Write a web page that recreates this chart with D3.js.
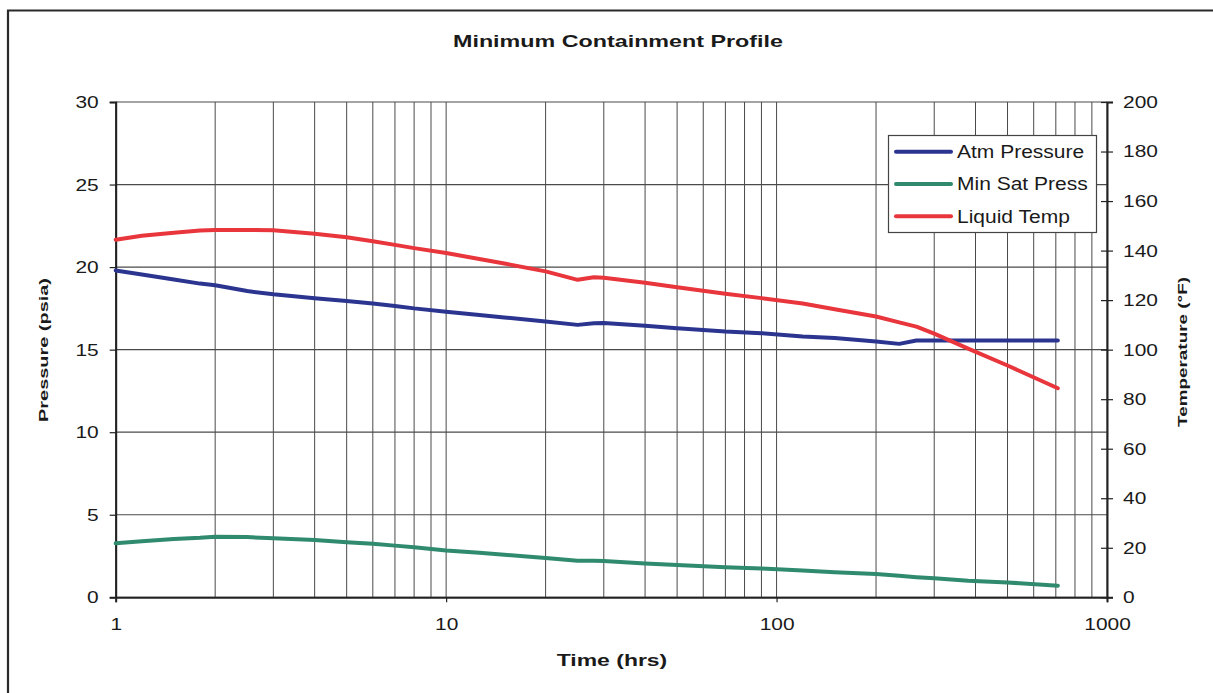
<!DOCTYPE html>
<html><head><meta charset="utf-8">
<script src="https://cdn.jsdelivr.net/npm/d3@7"></script>
<style>
html,body{margin:0;padding:0;background:#fff;}
svg{display:block;}
text{font-family:"Liberation Sans",Arial,sans-serif;fill:#1a1a1a;}
</style></head>
<body>
<svg id="chart" width="1213" height="693"></svg>
<script>
// ---- data ----
const timeHrs = [1, 1.2, 1.5, 1.8, 2, 2.5, 3, 4, 5, 6, 7, 8, 10, 12.6, 15, 20, 25, 28, 30, 40, 50, 70, 90, 120, 150, 200, 235, 265, 300, 380, 500, 710];
const atmPressure = [19.8, 19.55, 19.25, 19.0, 18.9, 18.55, 18.35, 18.12, 17.95, 17.8, 17.65, 17.5, 17.3, 17.1, 16.95, 16.7, 16.5, 16.6, 16.62, 16.45, 16.3, 16.1, 16.0, 15.8, 15.7, 15.5, 15.35, 15.55, 15.55, 15.55, 15.55, 15.55];
const minSatPress = [3.27, 3.4, 3.53, 3.6, 3.67, 3.65, 3.57, 3.47, 3.33, 3.25, 3.13, 3.03, 2.83, 2.7, 2.58, 2.38, 2.22, 2.22, 2.2, 2.05, 1.95, 1.82, 1.74, 1.62, 1.52, 1.41, 1.3, 1.22, 1.15, 1.0, 0.9, 0.7];
const liquidTemp = [144.4, 146.0, 147.2, 148.1, 148.3, 148.3, 148.2, 146.8, 145.4, 143.8, 142.3, 141.0, 139.0, 136.6, 134.8, 131.6, 128.2, 129.2, 129.0, 127.0, 125.2, 122.6, 120.8, 118.6, 116.3, 113.4, 111.0, 109.3, 106.5, 100.4, 93.6, 84.4];
const seriesNames = ["Atm Pressure", "Min Sat Press", "Liquid Temp"];
const seriesColors = ["#2b3590", "#2f8a6e", "#e8363c"];
const xTickValues = [1, 10, 100, 1000];
const leftTickValues = [0, 5, 10, 15, 20, 25, 30];
const rightTickValues = [0, 20, 40, 60, 80, 100, 120, 140, 160, 180, 200];
const titleText = "Minimum Containment Profile";
const xTitle = "Time (hrs)";
const yLeftTitle = "Pressure (psia)";
const yRightTitle = "Temperature (°F)";

// ---- layout ----
const svg = d3.select("#chart");
const L = 115.7, R = 1107, T = 102, B = 597.3;
const x = d3.scaleLog().domain([1, 1000]).range([L, R]);
const yL = d3.scaleLinear().domain([0, 30]).range([B, T]);
const yR = d3.scaleLinear().domain([0, 200]).range([B, T]);

function stretch(sel, factor) {
  sel.each(function () {
    const w = this.getComputedTextLength();
    d3.select(this).attr("textLength", w * factor).attr("lengthAdjust", "spacingAndGlyphs");
  });
  return sel;
}

// outer frame
svg.append("line").attr("x1", 7).attr("x2", 1213).attr("y1", 10.5).attr("y2", 10.5).attr("stroke", "#2a2a2a").attr("stroke-width", 2.2);
svg.append("line").attr("x1", 8).attr("x2", 8).attr("y1", 10).attr("y2", 693).attr("stroke", "#2a2a2a").attr("stroke-width", 2.2);

// grid
const minorTicks = [];
for (let d = 1; d <= 100; d *= 10) for (let k = 1; k <= 9; k++) minorTicks.push(d * k);
minorTicks.push(1000);
svg.append("g").selectAll("line").data(minorTicks).join("line")
  .attr("x1", d => x(d)).attr("x2", d => x(d)).attr("y1", T).attr("y2", B)
  .attr("stroke", "#4a4a4a").attr("stroke-width", 1);
svg.append("g").selectAll("line").data(leftTickValues).join("line")
  .attr("x1", L).attr("x2", R).attr("y1", d => yL(d)).attr("y2", d => yL(d))
  .attr("stroke", "#4a4a4a").attr("stroke-width", 1.2);

// axes
const axisColor = "#222";
const gx = svg.append("g").attr("transform", `translate(0,${B})`)
  .call(d3.axisBottom(x).tickValues(xTickValues).tickFormat(d3.format("d")).tickSize(5).tickPadding(16));
const gl = svg.append("g").attr("transform", `translate(${L},0)`)
  .call(d3.axisLeft(yL).tickValues(leftTickValues).tickFormat(d3.format("d")).tickSize(6).tickPadding(11));
const gr = svg.append("g").attr("transform", `translate(${R},0)`)
  .call(d3.axisRight(yR).tickValues(rightTickValues).tickFormat(d3.format("d")).tickSize(6).tickPadding(10));
[gx, gl, gr].forEach(g => {
  g.select(".domain").attr("stroke", axisColor).attr("stroke-width", 2);
  g.selectAll(".tick line").attr("stroke", axisColor).attr("stroke-width", 1.2);
  g.selectAll("text").attr("font-family", "Liberation Sans, Arial, sans-serif").attr("font-size", 17).attr("fill", "#1a1a1a");
});
gr.selectAll(".tick").append("line").attr("x1", -6).attr("x2", 0).attr("stroke", axisColor).attr("stroke-width", 1.2);
gx.selectAll(".tick text").attr("dy", "0.71em");
stretch(gx.selectAll("text"), 1.23);
stretch(gl.selectAll("text"), 1.23);
stretch(gr.selectAll("text"), 1.23);

// lines
const lineL = d3.line().x((d, i) => x(timeHrs[i])).y(d => yL(d));
const lineR = d3.line().x((d, i) => x(timeHrs[i])).y(d => yR(d));
const gLines = svg.append("g").attr("fill", "none").attr("stroke-width", 4).attr("stroke-linejoin", "round").attr("stroke-linecap", "round");
gLines.append("path").attr("d", lineL(minSatPress)).attr("stroke", seriesColors[1]);
gLines.append("path").attr("d", lineL(atmPressure)).attr("stroke", seriesColors[0]);
gLines.append("path").attr("d", lineR(liquidTemp)).attr("stroke", seriesColors[2]);

// legend
const lg = svg.append("g");
lg.append("rect").attr("x", 888.5).attr("y", 135.5).attr("width", 208).attr("height", 97)
  .attr("fill", "#fff").attr("stroke", "#444").attr("stroke-width", 1.2);
seriesNames.forEach((n, i) => {
  const yy = 151.7 + i * 32.3;
  lg.append("line").attr("x1", 896).attr("x2", 951).attr("y1", yy).attr("y2", yy)
    .attr("stroke", seriesColors[i]).attr("stroke-width", 4).attr("stroke-linecap", "round");
  const t = lg.append("text").attr("x", 957).attr("y", yy + 6.3).attr("font-size", 17.5).text(n);
  stretch(t, 1.2);
});

// titles
stretch(svg.append("text").attr("x", 618).attr("y", 47).attr("text-anchor", "middle")
  .attr("font-size", 17).attr("font-weight", "bold").text(titleText), 1.37);
stretch(svg.append("text").attr("x", 612).attr("y", 666).attr("text-anchor", "middle")
  .attr("font-size", 17).attr("font-weight", "bold").text(xTitle), 1.35);
svg.append("text").attr("transform", "translate(47.5,350) rotate(-90)").attr("text-anchor", "middle")
  .attr("font-size", 13).attr("font-weight", "bold").text(yLeftTitle)
  .attr("textLength", 144).attr("lengthAdjust", "spacingAndGlyphs");
svg.append("text").attr("transform", "translate(1187,352) rotate(-90)").attr("text-anchor", "middle")
  .attr("font-size", 13).attr("font-weight", "bold").text(yRightTitle)
  .attr("textLength", 150).attr("lengthAdjust", "spacingAndGlyphs");
</script>
</body></html>
